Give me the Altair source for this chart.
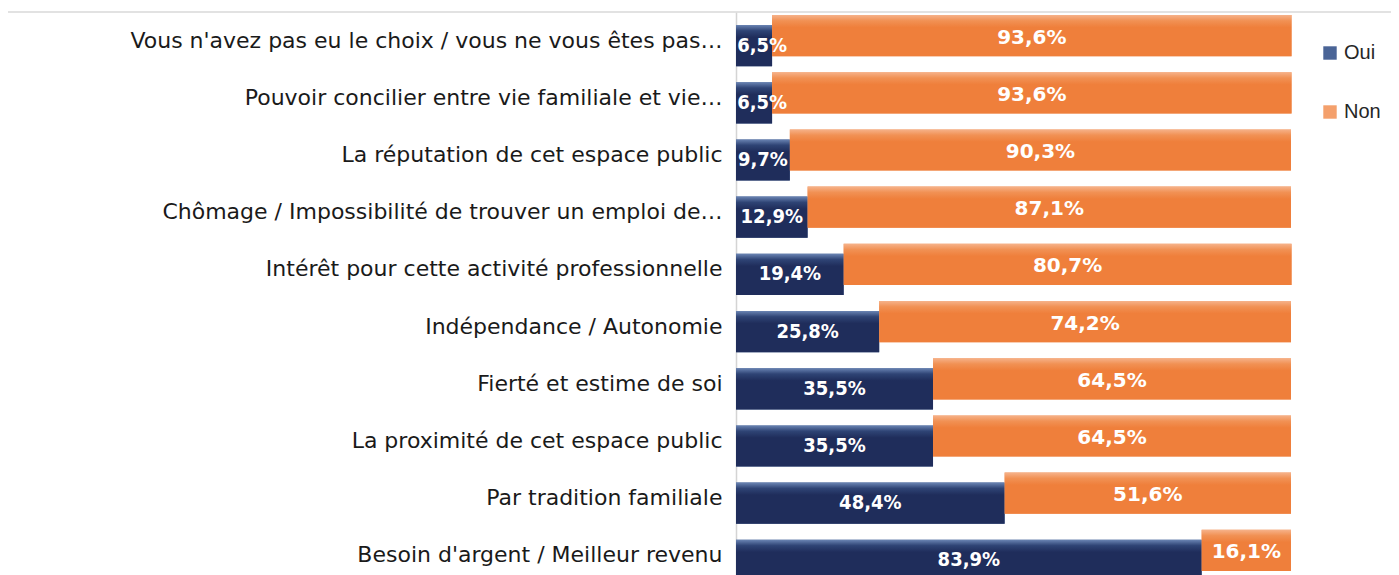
import altair as alt
import pandas as pd

categories = [
    "Vous n'avez pas eu le choix / vous ne vous êtes pas…",
    "Pouvoir concilier entre vie familiale et vie…",
    "La réputation de cet espace public",
    "Chômage / Impossibilité de trouver un emploi de…",
    "Intérêt pour cette activité professionnelle",
    "Indépendance / Autonomie",
    "Fierté et estime de soi",
    "La proximité de cet espace public",
    "Par tradition familiale",
    "Besoin d'argent / Meilleur revenu",
]
oui = [6.5, 6.5, 9.7, 12.9, 19.4, 25.8, 35.5, 35.5, 48.4, 83.9]
non = [93.6, 93.6, 90.3, 87.1, 80.7, 74.2, 64.5, 64.5, 51.6, 16.1]
series = ["Oui", "Non"]


def fmt(v):
    return f"{v:.1f}".replace(".", ",") + "%"


df = pd.DataFrame({
    "cat": categories,
    "oui": oui,
    "non": non,
    "oui_lbl": [fmt(v) for v in oui],
    "non_lbl": [fmt(v) for v in non],
})
df["end"] = df["oui"] + df["non"]
# label of a narrow bar starts at the axis instead of spilling left of it
df["oui_mid"] = (df["oui"] / 2).clip(lower=4.7)
df["non_mid"] = df["oui"] + df["non"] / 2

NAVY = "#1f2d5b"
ORANGE = "#ef7f3b"

y_enc = alt.Y(
    "cat:N",
    sort=categories,
    title=None,
    scale=alt.Scale(range=[0, 572], paddingInner=0.28, paddingOuter=0.14),
    axis=alt.Axis(
        labelFont="DejaVu Sans",
        labelFontSize=22,
        labelColor="#1a1a1a",
        labelLimit=720,
        labelPadding=14,
        ticks=False,
        domainColor="#d4d4d4",
        domainWidth=1.5,
    ),
)
x_scale = alt.Scale(domain=[0, 100], nice=False, zero=True)

base = alt.Chart(df)

color_scale = alt.Scale(domain=series, range=["#4a6496", "#f4a06c"])
legend = alt.Legend(
    title=None,
    orient="none",
    legendX=584,
    legendY=31,
    symbolType="square",
    symbolSize=180,
    symbolStrokeWidth=0,
    labelFont="Liberation Sans",
    labelFontSize=20,
    labelColor="#262626",
    labelOffset=4,
    rowPadding=39,
    padding=0,
)

oui_base = base.transform_calculate(serie='"Oui"').mark_bar(yOffset=5).encode(
    y=y_enc,
    x=alt.X("oui:Q", scale=x_scale, axis=None),
    color=alt.Color("serie:N", scale=color_scale, legend=legend),
)
non_base = base.transform_calculate(serie='"Non"').mark_bar(yOffset=-5).encode(
    y=y_enc,
    x=alt.X("oui:Q", scale=x_scale, axis=None),
    x2="end:Q",
    color=alt.Color("serie:N", scale=color_scale, legend=legend),
)

grad_oui = alt.LinearGradient(
    gradient="linear",
    stops=[
        alt.GradientStop(color="#6a84b3", offset=0),
        alt.GradientStop(color="#2f4475", offset=0.14),
        alt.GradientStop(color=NAVY, offset=0.3),
        alt.GradientStop(color=NAVY, offset=1),
    ],
    x1=0, x2=0, y1=0, y2=1,
)
grad_non = alt.LinearGradient(
    gradient="linear",
    stops=[
        alt.GradientStop(color="#f6b28a", offset=0),
        alt.GradientStop(color="#f19154", offset=0.14),
        alt.GradientStop(color=ORANGE, offset=0.3),
        alt.GradientStop(color=ORANGE, offset=1),
    ],
    x1=0, x2=0, y1=0, y2=1,
)

oui_bar = base.mark_bar(yOffset=5, fill=grad_oui).encode(
    y=y_enc,
    x=alt.X("oui:Q", scale=x_scale, axis=None),
)
non_bar = base.mark_bar(yOffset=-5, fill=grad_non).encode(
    y=y_enc,
    x=alt.X("oui:Q", scale=x_scale, axis=None),
    x2="end:Q",
)

oui_txt = base.mark_text(
    font="DejaVu Sans Condensed, Liberation Sans Narrow, DejaVu Sans",
    fontWeight="bold",
    fontSize=20,
    color="white",
    baseline="middle",
    dy=5,
).encode(
    y=y_enc,
    x=alt.X("oui_mid:Q", scale=x_scale, axis=None),
    text="oui_lbl:N",
)
non_txt = base.mark_text(
    font="DejaVu Sans",
    fontWeight="bold",
    fontSize=20,
    color="white",
    baseline="middle",
    dy=-3,
).encode(
    y=y_enc,
    x=alt.X("non_mid:Q", scale=x_scale, axis=None),
    text="non_lbl:N",
)

frame = alt.Chart(pd.DataFrame({"k": [0]})).mark_rule(color="#d9d9d9", strokeWidth=1.5).encode(
    x=alt.value(-729), x2=alt.value(663), y=alt.value(0)
)

chart = (
    alt.layer(oui_base, non_base, oui_bar, non_bar, oui_txt, non_txt, frame)
    .properties(
        width=555,
        height=563,
        autosize=alt.AutoSizeParams(type="none"),
        padding={"left": 728, "top": 4, "right": 100, "bottom": 0},
        background="white",
    )
    .configure_view(stroke=None)
)

chart.save("out.html", embed_options={"renderer": "svg", "actions": False})
